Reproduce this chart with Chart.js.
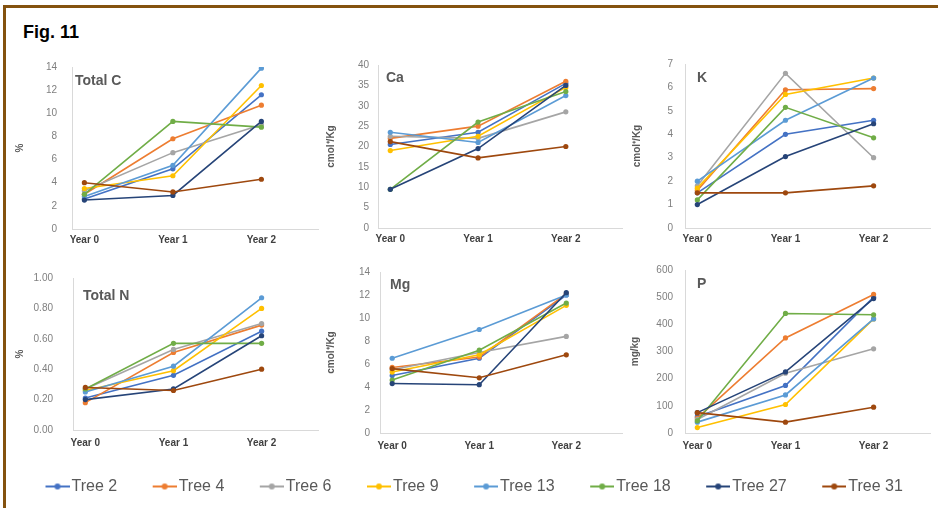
<!DOCTYPE html>
<html><head><meta charset="utf-8">
<script src="https://cdn.jsdelivr.net/npm/chart.js@4.4.1/dist/chart.umd.min.js"></script>
<style>
html,body{margin:0;padding:0;background:#fff;}
body{width:938px;height:508px;position:relative;overflow:hidden;}
#frame{position:absolute;left:3px;top:5px;right:-10px;bottom:-10px;border-left:3px solid #84520f;border-top:3px solid #84520f;}
#fig{position:absolute;left:23px;top:23px;font:bold 18px 'Liberation Sans',Arial,sans-serif;line-height:18px;color:#000;}
canvas{position:absolute;}
</style></head><body>
<div id="frame"></div>
<div id="fig">Fig. 11</div>
<script>
// ---- data ----
const years = ['Year 0', 'Year 1', 'Year 2'];
const trees = ['Tree 2', 'Tree 4', 'Tree 6', 'Tree 9', 'Tree 13', 'Tree 18', 'Tree 27', 'Tree 31'];
const treeColors = ['#4472C4', '#ED7D31', '#A5A5A5', '#FFC000', '#5B9BD5', '#70AD47', '#264478', '#9E480E'];

// values per tree (same order as trees), for Year 0, Year 1, Year 2
const totalC = [[2.6, 5.2, 11.6], [3.0, 7.8, 10.7], [3.3, 6.6, 9.0], [3.5, 4.6, 12.4],
                [2.8, 5.5, 13.9], [3.0, 9.3, 8.8], [2.5, 2.9, 9.3], [4.0, 3.2, 4.3]];
const calcium = [[20.5, 23.5, 35.5], [22.0, 25.0, 36.0], [22.5, 22.0, 28.5], [19.0, 22.5, 34.5],
                 [23.5, 21.0, 32.5], [9.5, 26.0, 33.5], [9.5, 19.5, 35.0], [21.2, 17.2, 20.0]];
const potassium = [[1.5, 4.0, 4.6], [1.6, 5.9, 5.95], [1.8, 6.6, 3.0], [1.7, 5.7, 6.4],
                   [2.0, 4.6, 6.4], [1.2, 5.15, 3.85], [1.0, 3.05, 4.45], [1.5, 1.5, 1.8]];
const totalN = [[0.21, 0.36, 0.65], [0.18, 0.51, 0.69], [0.27, 0.53, 0.70], [0.26, 0.39, 0.80],
                [0.25, 0.42, 0.87], [0.27, 0.57, 0.57], [0.20, 0.27, 0.62], [0.28, 0.26, 0.40]];
const magnesium = [[5.0, 6.5, 12.0], [5.7, 6.6, 12.1], [5.5, 7.0, 8.4], [5.3, 6.8, 11.1],
                   [6.5, 9.0, 12.0], [4.6, 7.2, 11.3], [4.3, 4.2, 12.2], [5.6, 4.8, 6.8]];
const phosphorus = [[60, 175, 500], [55, 350, 510], [50, 220, 310], [20, 105, 420],
                    [40, 140, 420], [45, 440, 435], [75, 225, 495], [75, 40, 95]];

const panelNames = ['Total C', 'Ca', 'K', 'Total N', 'Mg', 'P'];
const unitLabels = ['%', 'cmol\u207A/Kg', 'cmol\u207A/Kg', '%', 'cmol\u207A/Kg', 'mg/kg'];
const yMaxes = [14, 40, 7, 1, 14, 600];
const ySteps = [2, 5, 1, 0.2, 2, 100];
const yDecimals = [0, 0, 0, 2, 0, 0];
const panelValues = [totalC, calcium, potassium, totalN, magnesium, phosphorus];

// ---- layout (pixels) ----
// box: canvas [x, y, w, h]; plot: [left, top, right, bottom]
const layouts = [
  {box: [0, 46, 322, 206],   plot: [72, 66, 318, 229],  tickPad: 15, titlePad: 14, xPad: 5, name: [3, 14]},
  {box: [310, 46, 316, 206], plot: [378, 65, 623, 228], tickPad: 9,  titlePad: 15, xPad: 5, name: [8, 13]},
  {box: [620, 46, 314, 206], plot: [685, 64, 930, 228], tickPad: 12, titlePad: 11, xPad: 5, name: [12, 14]},
  {box: [0, 252, 322, 204],  plot: [73, 268, 318, 433], tickPad: 20, titlePad: 14, xPad: 7, name: [10, 18]},
  {box: [310, 252, 316, 204],plot: [380, 272, 623, 433],tickPad: 10, titlePad: 15, xPad: 7, name: [10, 13]},
  {box: [620, 252, 314, 204],plot: [685, 270, 930, 433],tickPad: 12, titlePad: 9,  xPad: 7, name: [12, 14]}
];

const FONT = "'Liberation Sans', Arial, sans-serif";
Chart.defaults.font.family = FONT;

const namePlugin = {
  id: 'panelName',
  beforeDatasetsDraw(chart, args, opts) {
    const {ctx, chartArea} = chart;
    ctx.save();
    ctx.font = 'bold 14px ' + FONT;
    ctx.fillStyle = '#595959';
    ctx.textBaseline = 'middle';
    ctx.textAlign = 'left';
    ctx.fillText(opts.text, chartArea.left + opts.dx, chartArea.top + opts.dy);
    ctx.restore();
  }
};

function makeCanvas(x, y, w, h) {
  const c = document.createElement('canvas');
  c.width = w; c.height = h;
  c.style.left = x + 'px'; c.style.top = y + 'px';
  c.style.width = w + 'px'; c.style.height = h + 'px';
  document.body.appendChild(c);
  return c;
}

panelNames.forEach((pname, k) => {
  const L = layouts[k];
  const [x0, y0, w, h] = L.box;
  const [pl, pt, pr, pb] = L.plot;
  const cv = makeCanvas(x0, y0, w, h);
  const vals = panelValues[k];
  new Chart(cv, {
    type: 'line',
    data: {
      datasets: trees.map((t, i) => ({
        label: t,
        data: vals[i].map((v, j) => ({x: j, y: v})),
        borderColor: treeColors[i],
        backgroundColor: treeColors[i],
        pointBackgroundColor: treeColors[i],
        pointBorderColor: treeColors[i],
        borderWidth: 1.6,
        pointRadius: 2.6,
        pointBorderWidth: 0,
        tension: 0,
        order: trees.length - i
      }))
    },
    options: {
      responsive: false,
      animation: false,
      layout: {padding: {left: 0, top: pt - y0, right: x0 + w - pr, bottom: 0}},
      plugins: {
        legend: {display: false},
        tooltip: {enabled: false},
        panelName: {text: pname, dx: L.name[0], dy: L.name[1]}
      },
      scales: {
        x: {
          type: 'linear',
          min: -0.14, max: 2.64,
          afterBuildTicks: s => { s.ticks = years.map((_, j) => ({value: j})); },
          afterFit: s => { s.height = y0 + h - pb; },
          grid: {display: false, drawTicks: false},
          border: {display: true, color: '#d9d9d9', width: 1},
          ticks: {
            padding: L.xPad, autoSkip: false, maxRotation: 0, minRotation: 0,
            color: '#404040', font: {size: 10, weight: 'bold'},
            callback: v => years[v] !== undefined ? years[v] : ''
          }
        },
        y: {
          min: 0, max: yMaxes[k],
          afterFit: s => { s.width = pl - x0; },
          grid: {display: false, drawTicks: false},
          border: {display: true, color: '#d9d9d9', width: 1},
          ticks: {
            stepSize: ySteps[k], padding: L.tickPad, color: '#7f7f7f', font: {size: 10},
            callback: v => Number(v).toFixed(yDecimals[k])
          },
          title: {
            display: true, text: unitLabels[k], color: '#595959',
            padding: {top: L.titlePad, bottom: 0}, font: {size: 10, weight: 'bold'}
          }
        }
      }
    },
    plugins: [namePlugin]
  });
});

// ---- legend ----
function markerImage(color) {
  const c = document.createElement('canvas');
  c.width = 42; c.height = 10;
  const g = c.getContext('2d');
  g.strokeStyle = color; g.lineWidth = 2;
  g.beginPath(); g.moveTo(18, 5); g.lineTo(42, 5); g.stroke();
  g.fillStyle = color;
  g.beginPath(); g.arc(30, 5, 3, 0, Math.PI * 2); g.fill();
  return c;
}
const markers = treeColors.map(markerImage);
const lc = makeCanvas(0, 455, 1000, 200);
new Chart(lc, {
  type: 'line',
  data: {datasets: trees.map((t, i) => ({label: t, data: [], borderColor: treeColors[i]}))},
  options: {
    responsive: false,
    animation: false,
    layout: {padding: {left: 10, top: 0}},
    scales: {x: {display: false}, y: {display: false}},
    plugins: {
      tooltip: {enabled: false},
      legend: {
        display: true, position: 'top', align: 'start',
        labels: {
          usePointStyle: true, pointStyleWidth: 30, boxHeight: 16,
          padding: 23.5, color: '#595959', font: {size: 16},
          generateLabels: () => trees.map((t, i) => ({
            text: t, pointStyle: markers[i], fillStyle: treeColors[i],
            strokeStyle: treeColors[i], lineWidth: 0, hidden: false,
            datasetIndex: i, fontColor: '#595959'
          }))
        }
      }
    }
  }
});
</script>
</body></html>
